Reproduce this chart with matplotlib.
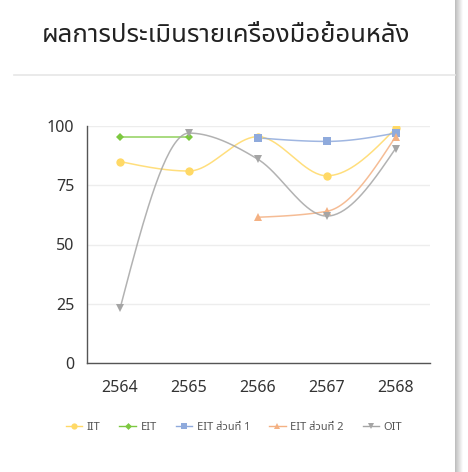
import numpy as np
import matplotlib.pyplot as plt
from matplotlib.patches import Rectangle
from matplotlib.lines import Line2D

# ข้อมูล
years = ['2564', '2565', '2566', '2567', '2568']
iit = [85, 81, 95.5, 79, 99]
eit = [95.5, 95.5, None, None, None]
eit_part1 = [None, None, 95, 93.5, 97]
eit_part2 = [None, None, 61.5, 64, 95.5]
oit = [23, 97, 86, 62, 90.5]

series = [
    ('IIT', iit, '#FFD966', 'o', 6),
    ('EIT', eit, '#7DC840', 'D', 4),
    ('EIT ส่วนที่ 1', eit_part1, '#8FAADC', 's', 6),
    ('EIT ส่วนที่ 2', eit_part2, '#F4B183', '^', 6),
    ('OIT', oit, '#A5A5A5', 'v', 6),
]

plt.rcParams['font.family'] = ['Noto Sans Thai', 'Noto Sans', 'DejaVu Sans']


def smooth(xs, ys, n=40):
    """เส้นโค้งแบบ monotone (คล้าย d3 curveMonotoneX)"""
    x = np.asarray(xs, float)
    y = np.asarray(ys, float)
    m = len(x)
    if m < 3:
        return x, y
    s = np.diff(y) / np.diff(x)
    h = np.diff(x)
    t = np.zeros(m)
    for i in range(1, m - 1):
        s0, s1 = s[i - 1], s[i]
        p = (s0 * h[i] + s1 * h[i - 1]) / (h[i - 1] + h[i])
        t[i] = (np.sign(s0) + np.sign(s1)) * min(abs(s0), abs(s1), 0.5 * abs(p))
    t[0] = (3 * s[0] - t[1]) / 2
    t[-1] = (3 * s[-1] - t[-2]) / 2
    ox, oy = [], []
    u = np.linspace(0, 1, n)
    for i in range(m - 1):
        dx = h[i]
        h00 = 2 * u ** 3 - 3 * u ** 2 + 1
        h10 = u ** 3 - 2 * u ** 2 + u
        h01 = -2 * u ** 3 + 3 * u ** 2
        h11 = u ** 3 - u ** 2
        ox.extend(x[i] + u * dx)
        oy.extend(h00 * y[i] + h10 * dx * t[i] + h01 * y[i + 1] + h11 * dx * t[i + 1])
    return np.array(ox), np.array(oy)


fig = plt.figure(figsize=(4.68, 4.72), dpi=100)
fig.patch.set_facecolor('white')

# เงาการ์ดด้านขวา
for i, a in enumerate(np.linspace(0.25, 0.02, 8)):
    fig.patches.append(Rectangle((455 / 468 + i / 468, 0), 1 / 468, 1,
                                 transform=fig.transFigure, color='black',
                                 alpha=a, lw=0))
fig.add_artist(Line2D([14 / 468, 455 / 468], [1 - 75 / 472] * 2,
                      color='#E6E6E6', lw=1.2, transform=fig.transFigure))

fig.text(42 / 468, 1 - 35 / 472, 'ผลการประเมินรายเครื่องมือย้อนหลัง',
         fontsize=18.5, color='#222222', va='center', ha='left')

ax = fig.add_axes([87 / 468, 1 - 363 / 472, 343 / 468, 237 / 472])
x_idx = np.arange(len(years))

handles = []
for name, vals, color, mk, ms in series:
    xs = [x for x, v in zip(x_idx, vals) if v is not None]
    ys = [v for v in vals if v is not None]
    sx, sy = smooth(xs, ys)
    ax.plot(sx, sy, color=color, lw=1.1, alpha=0.85, zorder=2)
    ax.plot(xs, ys, ls='none', marker=mk, color=color, ms=ms,
            markeredgewidth=0, zorder=3)
    handles.append(Line2D([0], [0], color=color, lw=1, marker=mk,
                          ms=4.5 if mk != 'D' else 3.5,
                          markeredgewidth=0, label=name))

ax.set_xlim(-0.48, 4.5)
ax.set_ylim(0, 100)
ax.set_xticks(x_idx)
ax.set_xticklabels(years)
ax.set_yticks([0, 25, 50, 75, 100])
ax.tick_params(length=0, labelsize=11.5, colors='#333333')
ax.tick_params(axis='y', pad=9)
ax.tick_params(axis='x', pad=12)
ax.grid(axis='y', color='#EDEDED', lw=1)
ax.set_axisbelow(True)
for s in ['top', 'right']:
    ax.spines[s].set_visible(False)
for s in ['left', 'bottom']:
    ax.spines[s].set_color('#555555')
    ax.spines[s].set_linewidth(1)

fig.legend(handles=handles, loc='center', bbox_to_anchor=(0.5, 1 - 427 / 472),
           ncol=5, frameon=False, fontsize=8, handlelength=1.5,
           columnspacing=1.7, handletextpad=0.4, labelcolor='#555555')

fig.savefig('out.png', dpi=100)
